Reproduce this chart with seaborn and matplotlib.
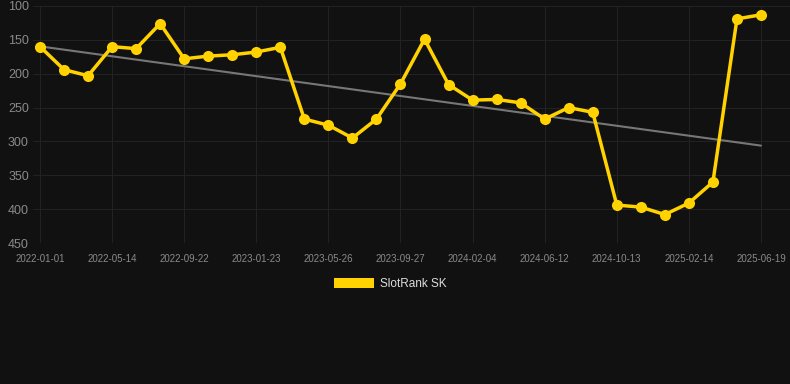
import numpy as np
import pandas as pd
import seaborn as sns
import matplotlib.pyplot as plt
from matplotlib.patches import Patch

ranks = [160, 194, 203, 160, 163, 126, 178, 174, 172, 168, 161,
         267, 276, 295, 267, 215, 149, 216, 239, 238, 243, 267,
         250, 257, 394, 397, 408, 391, 360, 119, 113]
tick_labels = ['2022-01-01', '2022-05-14', '2022-09-22', '2023-01-23',
               '2023-05-26', '2023-09-27', '2024-02-04', '2024-06-12',
               '2024-10-13', '2025-02-14', '2025-06-19']
series_name = 'SlotRank SK'

BG = '#111111'
YELLOW = '#FFD200'
GRID = '#222222'


def main():
    df = pd.DataFrame({'idx': np.arange(len(ranks)), 'rank': ranks})

    sns.set_theme(style='dark')
    plt.rcParams['font.family'] = ['Liberation Sans', 'DejaVu Sans']

    fig = plt.figure(figsize=(7.9, 3.84), dpi=100, facecolor=BG)
    ax = fig.add_axes([33 / 790, 1 - 243 / 384, 1 - 33 / 790, 237 / 384])
    ax.set_facecolor(BG)

    # trend line
    sns.regplot(x='idx', y='rank', data=df, scatter=False, ci=None, ax=ax,
                color='#777777', line_kws={'linewidth': 1.5, 'zorder': 2})

    sns.lineplot(x='idx', y='rank', data=df, ax=ax, color=YELLOW,
                 linewidth=2.5, marker='o', markersize=8,
                 markeredgewidth=0, zorder=3)

    step = 24.03
    ax.set_xlim(-7 / step, 30 + 29 / step)
    ax.set_ylim(450, 100)
    ax.set_yticks([100, 150, 200, 250, 300, 350, 400, 450])
    ax.set_xticks(np.arange(0, len(ranks), 3))
    ax.set_xticklabels(tick_labels)

    ax.grid(True, color=GRID, linewidth=0.8)
    for s in ax.spines.values():
        s.set_visible(False)
    ax.tick_params(axis='y', colors='#8a8a8a', labelsize=9, length=0, pad=3)
    ax.tick_params(axis='x', colors=GRID, labelcolor='#8a8a8a',
                   labelsize=7, length=6, width=0.8, pad=2, direction='out')
    ax.set_xlabel('')
    ax.set_ylabel('')

    handle = Patch(facecolor=YELLOW, edgecolor='none')
    leg = fig.legend([handle], [series_name], loc='center',
                     bbox_to_anchor=(390 / 790, 1 - 284 / 384),
                     frameon=False, fontsize=8.5, handlelength=3.4,
                     handleheight=0.9, handletextpad=0.5)
    for t in leg.get_texts():
        t.set_color('#dddddd')

    fig.savefig('out.png', dpi=100, facecolor=BG)


if __name__ == "__main__":
    main()
